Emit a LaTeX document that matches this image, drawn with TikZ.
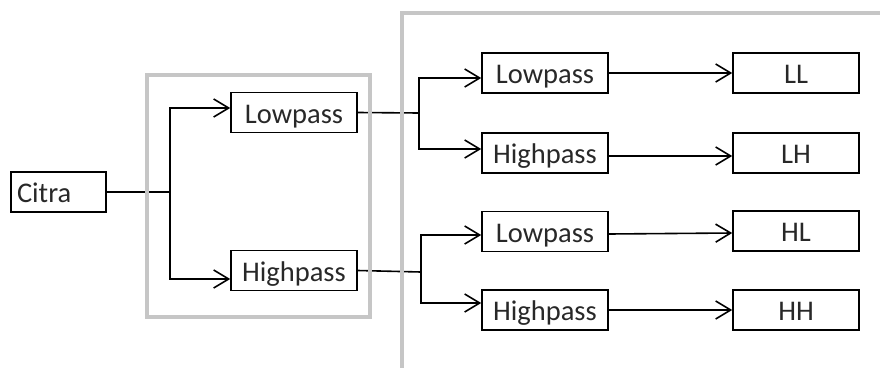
\documentclass[tikz,border=0pt]{standalone}
\usepackage{fontspec}
\setmainfont{Carlito}
\usetikzlibrary{arrows.meta}
\definecolor{frame}{RGB}{198,198,198}
\definecolor{ink}{RGB}{40,40,40}
\tikzset{
  x=1pt, y=-1pt,
  box/.style={draw=black, line width=1.6pt, rectangle, inner sep=0pt,
    minimum width=126pt, minimum height=40pt, text=ink,
    text height=25pt, text depth=4pt,
    font=\fontsize{28.5}{34}\selectfont},
  outbox/.style={box},
  wire/.style={draw=black, line width=1.6pt},
  arr/.style={wire, -{Straight Barb[length=15pt,width=18pt,line width=1.6pt]}},
  panel/.style={draw=frame, line width=4.5pt}
}
\begin{document}
\begin{tikzpicture}
\useasboundingbox (0,0) rectangle (880,367);

% input image
\node[box, minimum width=95pt, text width=83pt, align=left] (citra) at (58.5,192) {Citra};

% first level filters
\node[box] (lp1) at (294,112.5) {Lowpass};
\node[box] (hp1) at (294,270.5) {Highpass};

% second level filters
\node[box] (lpa) at (545,73) {Lowpass};
\node[box] (hpa) at (545,153) {Highpass};
\node[box] (lpb) at (545,231.5) {Lowpass};
\node[box] (hpb) at (545,310) {Highpass};

% sub-bands
\node[outbox] (ll) at (796,73) {LL};
\node[outbox] (lh) at (796,153) {LH};
\node[outbox] (hl) at (796,231) {HL};
\node[outbox] (hh) at (796,310) {HH};

% junctions
\coordinate (j1) at (170,192);
\coordinate (j2) at (419,113);
\coordinate (j3) at (421,272);

% first split
\draw[wire] (citra.east) -- (j1);
\draw[arr] (j1) |- ([yshift=4.5pt]lp1.west);
\draw[arr] (j1) |- ([yshift=-8.5pt]hp1.west);

% second split (lowpass branch)
\draw[wire] (lp1.east) -- (j2);
\draw[arr] (j2) |- ([yshift=-5pt]lpa.west);
\draw[arr] (j2) |- ([yshift=4pt]hpa.west);

% second split (highpass branch)
\draw[wire] (hp1.east) -- (j3);
\draw[arr] (j3) |- ([yshift=-3.5pt]lpb.west);
\draw[arr] (j3) |- ([yshift=7pt]hpb.west);

% outputs
\draw[arr] (lpa.east) -- (ll.west);
\draw[arr] ([yshift=-3pt]hpa.east) -- ([yshift=-3pt]lh.west);
\draw[arr] ([yshift=-2.5pt]lpb.east) -- ([yshift=-2pt]hl.west);
\draw[arr] (hpb.east) -- (hh.west);

% grouping frames
\draw[panel] (147,75) rectangle (370,317);
\draw[panel] (402,375) -- (402,13) -- (890,13);
\end{tikzpicture}
\end{document}
